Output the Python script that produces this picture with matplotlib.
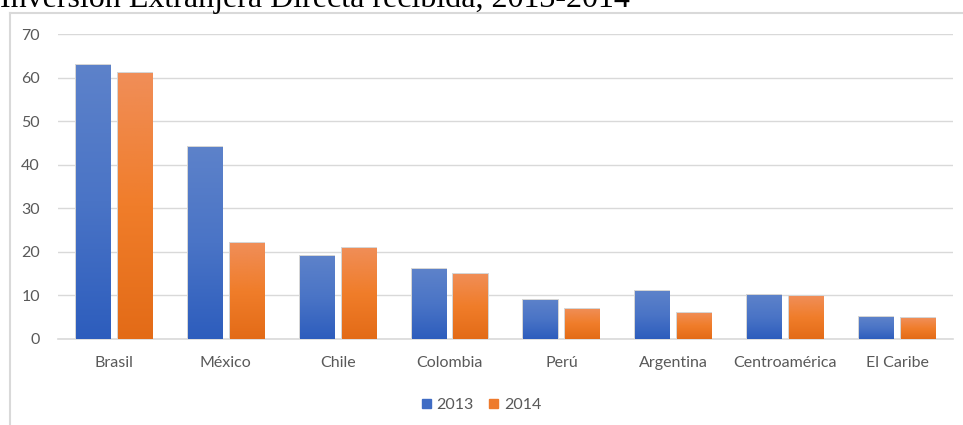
import numpy as np
import matplotlib.pyplot as plt
from matplotlib.colors import LinearSegmentedColormap
from matplotlib.patches import Rectangle
from matplotlib.lines import Line2D

regiones = ['Brasil', 'México', 'Chile', 'Colombia', 'Perú', 'Argentina',
            'Centroamérica', 'El Caribe']
ied_2013 = [63, 44, 19, 16, 9, 11, 10, 5]
ied_2014 = [61, 22, 21, 15, 7, 6, 9.8, 4.8]
series = ['2013', '2014']

W, H = 963, 425
fig = plt.figure(figsize=(W / 100, H / 100), dpi=100)
fig.patch.set_facecolor('white')

# outer chart frame (runs off the right and bottom edges)
fig.add_artist(Line2D([9.5 / W, 9.5 / W], [0, 1 - 12.5 / H], transform=fig.transFigure,
                      color='#d9d9d9', lw=1.5))
fig.add_artist(Line2D([9.5 / W, 1], [1 - 12.5 / H, 1 - 12.5 / H], transform=fig.transFigure,
                      color='#d9d9d9', lw=1.5))

# heading sits above the frame, partly off the top of the image
fig.text(0, 1 - 7 / H, 'Inversión Extranjera Directa recibida, 2013-2014',
         family='Liberation Serif', fontsize=23, color='black', va='baseline', ha='left')

ax = fig.add_axes([58 / W, (H - 339) / H, (953 - 58) / W, (339 - 34) / H])

blue = LinearSegmentedColormap.from_list('b', ['#2d5dbd', '#4a74c6', '#5d82ca'])
orange = LinearSegmentedColormap.from_list('o', ['#e36b17', '#f07d2a', '#f08e58'])
grad = np.linspace(0, 1, 256).reshape(-1, 1)

x = np.arange(len(regiones))
bw = 0.305
off = 0.1875
for vals, cmap, dx in [(ied_2013, blue, -off), (ied_2014, orange, off)]:
    bars = ax.bar(x + dx, vals, width=bw, color='none', edgecolor='#d4d4d4',
                  linewidth=1.4, zorder=2)
    for b in bars:
        bx, by = b.get_x(), b.get_height()
        im = ax.imshow(grad, cmap=cmap, origin='lower', aspect='auto',
                       extent=(bx, bx + bw, 0, by), zorder=3)
        im.set_clip_path(Rectangle((bx, 0), bw, by, transform=ax.transData))

ax.set_xlim(-0.5, len(regiones) - 0.5)
ax.set_ylim(0, 70)
ax.set_yticks(range(0, 71, 10))
ax.set_xticks(x)
ax.set_xticklabels(regiones)
ax.grid(axis='y', color='#d9d9d9', lw=1, zorder=0)
ax.set_axisbelow(True)
for s in ['top', 'right', 'left']:
    ax.spines[s].set_visible(False)
ax.spines['bottom'].set_color('#d9d9d9')
ax.spines['bottom'].set_linewidth(1.2)
ax.tick_params(length=0, labelsize=11.5, labelcolor='#595959')
ax.tick_params(axis='y', pad=13)
ax.tick_params(axis='x', pad=12.5)
for t in ax.get_xticklabels() + ax.get_yticklabels():
    t.set_family('Lato')

handles = [Rectangle((0, 0), 1, 1, color='#3f6cc4'), Rectangle((0, 0), 1, 1, color='#ee7a2c')]
fig.legend(handles, series, loc='center', bbox_to_anchor=(0.5, 1 - 405 / H), ncol=2,
           frameon=False, handlelength=0.55, handleheight=0.55, handletextpad=0.35,
           columnspacing=1.0, prop={'family': 'Lato', 'size': 11.5}, labelcolor='#595959')

fig.savefig('out.png', dpi=100)
